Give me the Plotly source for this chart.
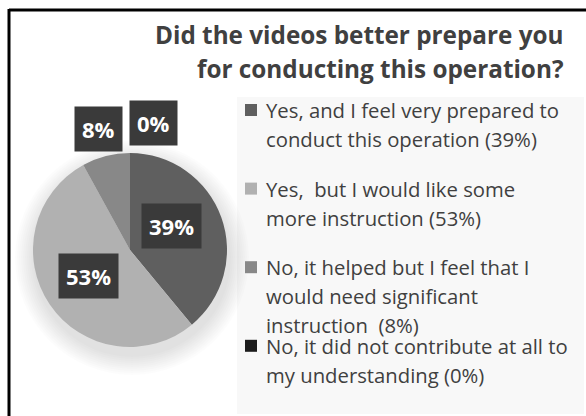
import math
import plotly.graph_objects as go

# ---- data ----
categories = [
    "Yes, and I feel very prepared to\nconduct this operation (39%)",
    "Yes,  but I would like some\nmore instruction (53%)",
    "No, it helped but I feel that I\nwould need significant\ninstruction  (8%)",
    "No, it did not contribute at all to\nmy understanding (0%)",
]
values = [39, 53, 8, 0]
value_labels = ["39%", "53%", "8%", "0%"]
title_lines = ["Did the videos better prepare you", "for conducting this operation?"]

# ---- style / layout ----
W, H = 586, 416
colors = ["#5f5f5f", "#b1b1b1", "#888888", "#1c1c1c"]
FONT = "Open Sans"
TXT = "#404040"
cx, cy, R = 130, 250, 97          # pie centre / radius in px
label_r = [0.46, 0.52, 1.29, 1.30]
label_dx = [0, 0, 0, 24]
label_dy = [-9, -2, 0, -1]


def px(x):
    return x / W


def py(y):
    return 1 - y / H


fig = go.Figure(go.Pie(
    labels=[c.replace("\n", " ") for c in categories],
    values=values,
    sort=False,
    direction="clockwise",
    rotation=0,
    marker=dict(colors=colors, line=dict(width=0)),
    textinfo="none",
    hoverinfo="label+percent",
    showlegend=False,
    domain=dict(x=[px(cx - R), px(cx + R)], y=[py(cy + R), py(cy - R)]),
))

shapes = [
    # frame (left + top lines)
    dict(type="line", xref="paper", yref="paper", x0=px(9), x1=px(9), y0=py(9), y1=0,
         line=dict(color="black", width=3)),
    dict(type="line", xref="paper", yref="paper", x0=px(9), x1=1, y0=py(10), y1=py(10),
         line=dict(color="black", width=3)),
    # legend backdrop
    dict(type="rect", xref="paper", yref="paper", x0=px(237), x1=px(584), y0=py(97), y1=py(414),
         fillcolor="#f8f8f8", line=dict(width=0), layer="below"),
]
# soft shadow behind the pie
for grow in range(2, 22, 2):
    shapes.append(dict(type="circle", xref="paper", yref="paper", layer="below",
                       x0=px(cx - R - grow + 2), x1=px(cx + R + grow + 2),
                       y0=py(cy + R + grow + 8), y1=py(cy - R - grow + 8),
                       fillcolor="black", opacity=0.012, line=dict(width=0)))
annotations = []

# title
for i, t in enumerate(title_lines):
    annotations.append(dict(text=f"<b>{t}</b>", xref="paper", yref="paper",
                             x=px(566), y=py(34 + i * 35), xanchor="right", yanchor="middle",
                             showarrow=False, font=dict(family=FONT, size=24.3, color=TXT)))

# value labels
total = sum(values)
cum = 0
for v, lab, rf, dx, dy in zip(values, value_labels, label_r, label_dx, label_dy):
    mid = (cum + v / 2) / total * 2 * math.pi
    cum += v
    lx = cx + math.sin(mid) * R * rf + dx
    ly = cy - math.cos(mid) * R * rf + dy
    annotations.append(dict(text=f"<b>{lab}</b>", xref="paper", yref="paper",
                            x=px(lx), y=py(ly), xanchor="center", yanchor="middle",
                            showarrow=False, bgcolor="#3a3a3a", borderpad=7,
                            font=dict(family=FONT, size=22, color="white")))

# legend
leg_x, leg_y0, leg_step, line_h, sq = 245, 110, 78.6, 29, 12
for i, (cat, col) in enumerate(zip(categories, colors)):
    y0 = leg_y0 + i * leg_step
    shapes.append(dict(type="rect", xref="paper", yref="paper",
                       x0=px(leg_x), x1=px(leg_x + sq), y0=py(y0 - sq / 2), y1=py(y0 + sq / 2),
                       fillcolor=col, line=dict(width=0)))
    for j, ln in enumerate(cat.split("\n")):
        annotations.append(dict(text=ln, xref="paper", yref="paper",
                                x=px(264), y=py(y0 + j * line_h), xanchor="left", yanchor="middle",
                                showarrow=False, font=dict(family=FONT, size=20.3, color=TXT)))

fig.update_layout(
    width=W, height=H, margin=dict(l=0, r=0, t=0, b=0),
    paper_bgcolor="white", plot_bgcolor="white",
    shapes=shapes, annotations=annotations,
)
fig.write_html("out.html", config={"displayModeBar": False},
               post_script="document.body.style.margin='0px';")
